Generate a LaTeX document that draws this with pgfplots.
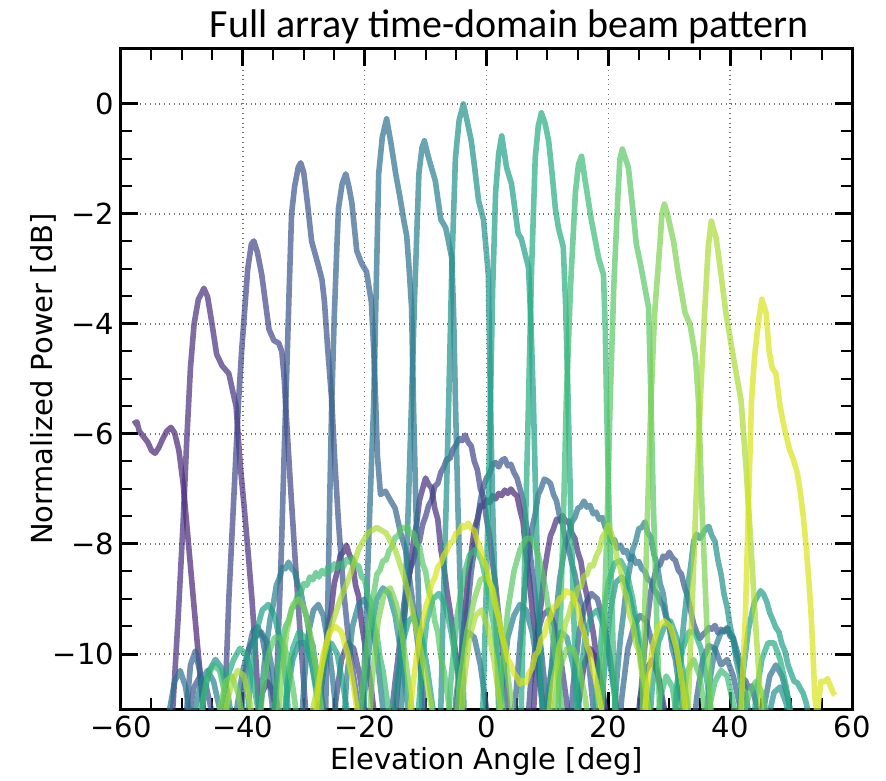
\documentclass[border=0pt]{standalone}
\usepackage{pgfplots}
\pgfplotsset{compat=1.18}
\usepackage{fontspec}
\setmainfont{DejaVu Sans}
\newfontfamily\titlefont{Carlito}
\definecolor{c0}{HTML}{482475}
\definecolor{c1}{HTML}{472F7D}
\definecolor{c2}{HTML}{414487}
\definecolor{c3}{HTML}{3A548C}
\definecolor{c4}{HTML}{33638D}
\definecolor{c5}{HTML}{2C718E}
\definecolor{c6}{HTML}{27808E}
\definecolor{c7}{HTML}{21918C}
\definecolor{c8}{HTML}{1F9F88}
\definecolor{c9}{HTML}{25AC82}
\definecolor{c10}{HTML}{3ABA76}
\definecolor{c11}{HTML}{58C765}
\definecolor{c12}{HTML}{7AD151}
\definecolor{c13}{HTML}{A8DB34}
\definecolor{c14}{HTML}{D8E219}
\begin{document}
\begin{tikzpicture}
\useasboundingbox (-60.5pt,-35.5pt) rectangle (382.5pt,354.5pt);
\begin{axis}[
  scale only axis, width=365.5pt, height=330pt,
  xmin=-60, xmax=60, ymin=-11, ymax=1,
  xtick={-60,-40,-20,0,20,40,60},
  xticklabels={−60,−40,−20,0,20,40,60},
  ytick={-10,-8,-6,-4,-2,0},
  yticklabels={−10,−8,−6,−4,−2,0},
  minor x tick num=3, minor y tick num=3,
  tick align=inside,
  major tick length=8.5pt, minor tick length=5.5pt,
  every major tick/.style={line width=1.5pt, black},
  every minor tick/.style={line width=1pt, black},
  axis line style={line width=1.5pt},
  grid=major,
  grid style={dotted, line width=0.7pt, black!55},
  ticklabel style={font=\fontsize{14.5}{17}\selectfont},
  every axis plot/.append style={no markers, line width=2.8pt, draw opacity=0.7, line join=round},
]
% beam 0 (tail)
\addplot[c0] coordinates {(-58,-5.82) (-57.4,-5.78) (-57,-5.95) (-56.3,-6.05) (-55.6,-6.15) (-55,-6.3) (-54.4,-6.35) (-53.8,-6.25) (-53.2,-6.1) (-52.5,-5.95) (-51.8,-5.88) (-51.2,-5.98) (-50.5,-6.3) (-49.8,-6.9) (-49,-7.9) (-48.2,-8.9) (-47.4,-9.9) (-46.7,-10.7) (-46.2,-11.5) (-44,-12.5) (-38.5,-12.5) (-37.5,-11.2) (-36.8,-10.7) (-36,-10.5) (-35.2,-10.65) (-34.4,-11.1) (-33.5,-12.5) (-30,-12.5) (-27.5,-11) (-27,-10.5) (-26.5,-10.05) (-26,-9.55) (-25.5,-9.2) (-25,-8.72) (-24.5,-8.5) (-24,-8.2) (-23.5,-8.15) (-23,-8.02) (-22.5,-8.2) (-22,-8.3) (-21.5,-8.75) (-21,-8.95) (-20.5,-9.45) (-20,-9.8) (-19.5,-10.2) (-19,-10.55) (-18,-11.5) (-17,-12.5) (-6,-12.5) (-4.5,-10.5) (-4,-9.85) (-3.5,-9.2) (-3,-8.55) (-2.5,-8.15) (-2,-7.72) (-1.5,-7.55) (-1,-7.3) (-0.5,-7.32) (0,-7.2) (0.5,-7.25) (1,-7.12) (1.5,-7.18) (2,-7.08) (2.5,-7.12) (3,-7.02) (3.5,-7.08) (4,-7.0) (4.5,-7.08) (5,-7.12) (5.5,-7.38) (6,-7.6) (6.5,-8.2) (7,-8.6) (7.5,-9.2) (8,-9.6) (8.5,-10.2) (9.5,-11.2) (10.5,-12.5) (14,-12.5) (15,-11) (16,-10.2) (17,-9.9) (18,-10.1) (19,-10.6) (20,-11.4) (21,-12.5)};
% beam 1
\addplot[c1] coordinates {(-52,-12.5) (-51.5,-11) (-50.6,-9.3) (-49.8,-7.6) (-49.2,-6.1) (-48.6,-4.8) (-48,-4.0) (-47.3,-3.55) (-46.8,-3.45) (-46.4,-3.35) (-45.8,-3.5) (-45.2,-3.9) (-44.3,-4.55) (-43.4,-4.76) (-42.3,-4.9) (-41.7,-5.2) (-41.1,-5.5) (-40.4,-6.6) (-39.8,-7.3) (-39.1,-8.2) (-38.5,-9.0) (-37.9,-10) (-37.4,-11) (-36.8,-12.5) (-16,-12.5) (-14.5,-10.5) (-14,-9.9) (-13.5,-9.35) (-13,-8.8) (-12.5,-8.45) (-12,-7.95) (-11.5,-7.65) (-11,-7.2) (-10.5,-7.0) (-10,-6.8) (-9.5,-6.92) (-9,-6.98) (-8.5,-7.35) (-8,-7.55) (-7.5,-8.1) (-7,-8.4) (-6.5,-8.85) (-6,-9.2) (-5.5,-9.6) (-5,-10.05) (-4.5,-10.5) (-3.8,-11.3) (-3,-12.5) (7,-12.5) (8.5,-9.5) (9,-9.05) (9.5,-8.5) (10,-8.15) (10.5,-7.85) (11,-7.72) (11.5,-7.55) (12,-7.58) (12.5,-7.48) (13,-7.6) (13.5,-7.58) (14,-7.8) (14.5,-7.9) (15,-8.15) (15.5,-8.32) (16,-8.7) (16.5,-8.95) (17,-9.3) (17.5,-9.6) (18,-10) (19.5,-11) (21,-12.5) (24,-12.5) (25.2,-10.8) (26.2,-10.3) (27.2,-10.1) (28.2,-10.4) (29.2,-11) (30.2,-12.5)};
% beam 2
\addplot[c2] coordinates {(-43.3,-12.5) (-42.8,-10.5) (-42.3,-9.0) (-41.5,-7.2) (-40.7,-5.4) (-40.2,-4.5) (-39.8,-3.9) (-39.2,-3.0) (-38.6,-2.55) (-38.2,-2.49) (-37.6,-2.7) (-36.9,-3.1) (-36.3,-3.6) (-35.7,-4.1) (-34.9,-4.3) (-34.1,-4.35) (-33.6,-4.5) (-33.2,-5.0) (-32.9,-5.6) (-32.2,-6.9) (-31.4,-8.3) (-30.6,-9.6) (-29.7,-11) (-29.2,-12.5) (-26,-12.5) (-24.8,-10.9) (-23.8,-10.1) (-22.8,-9.8) (-21.8,-9.9) (-20.8,-10.4) (-19.8,-11.2) (-18.8,-12.5) (-17,-12.5) (-15,-10.5) (-14.5,-10.05) (-14,-9.55) (-13.5,-9.05) (-13,-8.75) (-12.5,-8.45) (-12,-8.3) (-11.5,-8.05) (-11,-7.95) (-10.5,-7.65) (-10,-7.5) (-9.5,-7.3) (-9,-7.2) (-8.5,-6.95) (-8,-6.9) (-7.5,-6.7) (-7,-6.6) (-6.5,-6.45) (-6,-6.45) (-5.5,-6.28) (-5,-6.2) (-4.5,-6.08) (-4,-6.12) (-3.5,-6.02) (-3,-6.15) (-2.5,-6.22) (-2,-6.5) (-1.5,-6.65) (-1,-7.0) (-0.5,-7.15) (0,-7.55) (0.5,-7.85) (1,-8.35) (1.5,-8.75) (2,-9.3) (2.5,-9.75) (3,-10.4) (3.5,-11) (4.5,-12.5) (6,-12.5) (7.2,-10.6) (8.2,-9.7) (9.2,-9.3) (10.2,-9.2) (11.2,-9.5) (12.2,-10.1) (13.2,-10.9) (14.2,-12.5)};
% beam 3
\addplot[c3] coordinates {(-50,-12.5) (-49,-11.2) (-48,-10.6) (-47,-10.4) (-46,-10.6) (-45,-11.1) (-44,-12.5) (-35.3,-12.5) (-34.6,-11) (-33.7,-8.2) (-33.2,-6.3) (-32.8,-4.9) (-32.4,-3.4) (-32,-2.0) (-31.5,-1.5) (-30.9,-1.15) (-30.5,-1.07) (-30,-1.25) (-29.4,-1.8) (-28.7,-2.5) (-27.5,-2.98) (-27,-3.2) (-26.6,-3.6) (-26.1,-4.4) (-25.4,-5.4) (-24.9,-6.5) (-24.3,-7.6) (-23.5,-8.8) (-22.5,-9.9) (-21,-11) (-20.3,-12.5) (-6,-12.5) (-4.5,-10.5) (-4,-10.0) (-3.5,-9.45) (-3,-9.05) (-2.5,-8.5) (-2,-8.1) (-1.5,-7.6) (-1,-7.2) (-0.5,-6.95) (0,-6.8) (0.5,-6.72) (1,-6.55) (1.5,-6.52) (2,-6.6) (2.5,-6.48) (3,-6.45) (3.5,-6.58) (4,-6.55) (4.5,-6.7) (5,-6.8) (5.5,-7.0) (6,-7.2) (6.5,-7.62) (7,-8.0) (7.5,-8.5) (8,-8.95) (8.5,-9.5) (9,-9.95) (9.5,-10.5) (10.5,-11.5) (11.5,-12.5) (13,-12.5) (14.2,-10.6) (15.2,-9.6) (16.2,-9.1) (17.2,-8.9) (18.2,-9.0) (19.2,-9.4) (20.2,-10.0) (21.2,-10.8) (22.2,-12.5) (24,-12.5) (25.5,-10.5) (26,-9.85) (26.5,-9.3) (27,-8.85) (27.5,-8.62) (28,-8.4) (28.5,-8.38) (29,-8.22) (29.5,-8.25) (30,-8.15) (30.5,-8.25) (31,-8.3) (31.5,-8.48) (32,-8.55) (32.5,-8.78) (33,-8.95) (33.5,-9.2) (34,-9.45) (34.5,-9.6) (35,-9.72) (35.5,-9.65) (36,-9.6) (36.5,-9.52) (37,-9.55) (37.5,-9.48) (38,-9.62) (38.5,-9.55) (39,-9.6) (39.5,-9.52) (40,-9.68) (40.5,-9.72) (41,-10.0) (41.5,-10.18) (42,-10.45) (42.5,-10.48) (43,-10.62) (43.5,-10.58) (44.5,-11) (45.5,-12.5)};
% beam 4
\addplot[c4] coordinates {(-50,-12.5) (-49.2,-11) (-48.6,-10.2) (-47.8,-9.95) (-47.1,-10.3) (-46.5,-11) (-45.8,-12.5) (-41,-12.5) (-40,-10.8) (-39.2,-10.0) (-38.4,-9.6) (-37.6,-9.5) (-36.8,-9.7) (-36,-10.2) (-35.2,-10.9) (-34.4,-12.5) (-27,-12.5) (-26.4,-11) (-26,-8.8) (-25.7,-7) (-25.4,-5.4) (-25,-3.9) (-24.6,-2.7) (-24.3,-1.9) (-23.7,-1.45) (-23.1,-1.27) (-22.6,-1.5) (-22.1,-1.8) (-21.3,-2.67) (-20.5,-2.9) (-19.7,-3.05) (-18.9,-3.6) (-18.5,-4.5) (-18.2,-5.4) (-17.9,-6.4) (-17.4,-7.1) (-16.6,-7.04) (-15.8,-7.2) (-15,-7.35) (-14.1,-7.8) (-13.3,-8.1) (-12.3,-8.9) (-11.3,-9.8) (-10.3,-10.8) (-9.3,-12.5) (3.5,-12.5) (5,-10.5) (5.5,-9.8) (6,-9.2) (6.5,-8.55) (7,-8.15) (7.5,-7.7) (8,-7.45) (8.5,-7.1) (9,-6.98) (9.5,-6.82) (10,-6.85) (10.5,-6.9) (11,-7.1) (11.5,-7.22) (12,-7.5) (12.5,-7.65) (13,-7.95) (13.5,-8.1) (14,-8.35) (14.5,-8.55) (15,-8.85) (15.5,-9.1) (16,-9.5) (16.5,-9.9) (17,-10.4) (18,-11.5) (19,-12.5) (21,-12.5) (22.2,-10.8) (23.2,-9.9) (24.2,-9.5) (25.2,-9.3) (26.2,-9.4) (27.2,-9.8) (28.2,-10.4) (29.2,-11.2) (30.2,-12.5) (33,-12.5) (34.5,-10.8) (35.5,-10.1) (36.5,-9.85) (37.5,-9.9) (38.5,-10.2) (39.5,-10.1) (40.5,-10.4) (41.5,-10.9) (42.5,-11.6) (43.5,-12.5)};
% beam 5
\addplot[c5] coordinates {(-53,-12.5) (-52,-11) (-51.2,-10.5) (-50.3,-10.3) (-49.4,-10.6) (-48.6,-11.2) (-47.8,-12.5) (-42,-12.5) (-41,-11) (-40,-10.3) (-39,-9.9) (-38,-9.7) (-37,-9.6) (-36,-9.8) (-35,-10.4) (-34,-11.2) (-33,-12.5) (-31,-12.5) (-30,-10.6) (-29.2,-9.6) (-28.4,-9.2) (-27.6,-9.1) (-26.8,-9.3) (-26,-9.8) (-25.2,-10.5) (-24.4,-11.4) (-23.5,-12.5) (-21,-12.5) (-20.3,-11) (-19.7,-9.1) (-19.1,-7.2) (-18.5,-5.4) (-18.1,-3.3) (-17.7,-1.27) (-17.1,-0.6) (-16.4,-0.27) (-15.7,-0.7) (-14.9,-1.27) (-14.2,-1.7) (-13.6,-2.1) (-13.1,-2.4) (-12.7,-3.0) (-12.3,-3.7) (-12,-5.4) (-11.6,-7.3) (-11.1,-9.2) (-10.6,-11) (-10.2,-12.5) (-6,-12.5) (-5,-10.8) (-4,-9.9) (-3,-9.6) (-2,-9.7) (-1,-10.2) (0,-11) (1,-12.5) (9,-12.5) (10.5,-10.5) (11,-9.75) (11.5,-9.2) (12,-8.65) (12.5,-8.3) (13,-7.95) (13.5,-7.85) (14,-7.6) (14.5,-7.52) (15,-7.35) (15.5,-7.32) (16,-7.22) (16.5,-7.33) (17,-7.3) (17.5,-7.45) (18,-7.42) (18.5,-7.55) (19,-7.52) (19.5,-7.7) (20,-7.75) (20.5,-7.95) (21,-7.92) (21.5,-8.08) (22,-8.02) (22.5,-8.15) (23,-8.12) (23.5,-8.28) (24,-8.22) (24.5,-8.35) (25,-8.32) (25.5,-8.45) (26,-8.5) (26.5,-8.65) (27,-8.68) (27.5,-8.85) (28,-8.9) (28.5,-9.05) (29,-9.12) (29.5,-9.35) (30,-9.45) (30.5,-9.75) (31,-9.9) (31.5,-10.25) (32,-10.45) (32.5,-10.85) (33.5,-11.5) (34.5,-12.5) (44,-12.5) (45.5,-11) (46.5,-10.4) (47.5,-10.2) (48.5,-10.4) (49.5,-10.8) (50.5,-11.4) (51.5,-12.5)};
% beam 6
\addplot[c6] coordinates {(-49,-12.5) (-47.8,-11) (-46.8,-10.5) (-45.8,-10.3) (-44.8,-10.5) (-43.8,-11) (-42.8,-12.5) (-38,-12.5) (-37,-10.8) (-36.5,-10.2) (-36,-9.75) (-35.5,-9.35) (-35,-9.1) (-34.5,-8.75) (-34,-8.62) (-33.5,-8.42) (-33,-8.45) (-32.5,-8.33) (-32,-8.45) (-31.5,-8.5) (-31,-8.72) (-30.5,-8.85) (-30,-9.15) (-29.5,-9.35) (-29,-9.7) (-28.5,-9.85) (-28,-10.25) (-27.5,-10.45) (-26.5,-11.2) (-25.5,-12.5) (-24,-12.5) (-23,-10.5) (-22,-9.5) (-21,-9.1) (-20,-9.0) (-19,-9.3) (-18,-10) (-17,-11) (-16,-12.5) (-14.6,-12.5) (-14,-11) (-13.4,-9.1) (-12.8,-7.2) (-12.3,-5.4) (-11.8,-3.5) (-11.1,-1.27) (-10.6,-0.8) (-10.2,-0.67) (-9.5,-0.98) (-8.4,-1.4) (-7.5,-2.1) (-6.7,-2.25) (-5.7,-2.8) (-5.4,-3.8) (-5.1,-5.4) (-4.7,-7.3) (-4.2,-9.2) (-3.7,-11) (-3.3,-12.5) (1,-12.5) (2.5,-10.6) (3.5,-9.7) (4.5,-9.3) (5.5,-9.1) (6.5,-9.2) (7.5,-9.6) (8.5,-10.3) (9.5,-11.2) (10.5,-12.5) (20,-12.5) (21.5,-10.3) (22,-9.7) (22.5,-9.25) (23,-8.75) (23.5,-8.45) (24,-8.1) (24.5,-7.95) (25,-7.72) (25.5,-7.7) (26,-7.6) (26.5,-7.8) (27,-7.88) (27.5,-8.2) (28,-8.35) (28.5,-8.72) (29,-8.9) (29.5,-9.3) (30,-9.5) (30.5,-9.9) (31,-10.1) (31.5,-10.5) (32.5,-11.2) (33.5,-12.5) (35,-12.5) (36.5,-10.6) (37.5,-9.9) (38.5,-9.6) (39.5,-9.55) (40.5,-9.7) (41.5,-10.1) (42.5,-10.7) (43.5,-11.4) (44.5,-12.5)};
% beam 7
\addplot[c7] coordinates {(-48,-12.5) (-46.5,-10.8) (-45.5,-10.3) (-44.5,-10.1) (-43.5,-10.25) (-42.5,-10.7) (-41.5,-11.4) (-40.5,-12.5) (-34,-12.5) (-32.8,-10.8) (-31.8,-10.1) (-30.8,-9.8) (-29.8,-9.8) (-28.8,-10.1) (-27.8,-10.7) (-26.8,-11.5) (-25.8,-12.5) (-21,-12.5) (-20,-10.7) (-19,-9.6) (-18,-9.0) (-17,-8.8) (-16,-8.9) (-15,-9.3) (-14,-10) (-13,-10.9) (-12,-12.5) (-8,-12.5) (-7.5,-11) (-7.1,-9.1) (-6.6,-7.2) (-6.2,-5.4) (-5.7,-3) (-5.1,-0.98) (-4.5,-0.3) (-3.8,0) (-3.2,-0.3) (-2.5,-0.67) (-1.9,-1.2) (-1.3,-1.76) (-0.5,-2.1) (0.3,-3.1) (0.65,-5.4) (1,-7.3) (1.5,-9.2) (2,-11) (2.4,-12.5) (9,-12.5) (10.2,-10.6) (11.2,-9.9) (12.2,-9.6) (13.2,-9.7) (14.2,-10.2) (15.2,-11) (16.2,-12.5) (18,-12.5) (19.2,-10.5) (20.2,-9.3) (21.2,-8.7) (22.2,-8.6) (23.2,-8.8) (24.2,-9.3) (25.2,-10) (26.2,-10.8) (27.2,-12.5) (30,-12.5) (31.5,-10.5) (32,-9.85) (32.5,-9.3) (33,-8.8) (33.5,-8.42) (34,-7.95) (34.5,-7.82) (35,-7.9) (35.5,-7.82) (36,-7.72) (36.5,-7.68) (37,-7.85) (37.5,-7.95) (38,-8.3) (38.5,-8.55) (39,-8.92) (39.5,-9.15) (40,-9.5) (40.5,-9.75) (41,-10.12) (41.5,-10.35) (42,-10.72) (43,-11.4) (44,-12.5) (45,-12.5) (46.2,-11.2) (47.2,-10.7) (48.2,-10.6) (49.2,-10.9) (50.2,-11.6) (51,-12.5)};
% beam 8
\addplot[c8] coordinates {(-40,-12.5) (-38.8,-10.5) (-37.8,-9.6) (-36.8,-9.2) (-35.8,-9.1) (-34.8,-9.3) (-33.8,-9.8) (-32.8,-10.6) (-31.8,-12.5) (-29,-12.5) (-27.5,-10.8) (-26.5,-10.1) (-25.5,-9.8) (-24.5,-10.0) (-23.5,-10.6) (-22.5,-11.3) (-21.5,-12.5) (-16,-12.5) (-14.8,-10.6) (-13.8,-9.8) (-12.8,-9.4) (-11.8,-9.3) (-10.8,-9.6) (-9.8,-10.2) (-8.8,-11) (-7.8,-12.5) (-1.2,-12.5) (-0.6,-11) (-0.1,-9.1) (0.3,-7.2) (0.65,-5.4) (1,-3.4) (1.5,-1.6) (2,-0.9) (2.5,-0.58) (3.3,-1.16) (4.1,-1.45) (5.2,-2.36) (5.7,-2.44) (6.9,-2.98) (7.3,-4) (7.7,-5.4) (8.1,-7.3) (8.6,-9.2) (9.1,-11) (9.5,-12.5) (14,-12.5) (15.2,-10.6) (16.2,-9.7) (17.2,-9.3) (18.2,-9.2) (19.2,-9.5) (20.2,-10.1) (21.2,-10.9) (22.2,-12.5) (26,-12.5) (27.2,-10.6) (28.2,-9.8) (29.2,-9.5) (30.2,-9.4) (31.2,-9.7) (32.2,-10.3) (33.2,-11.1) (34.2,-12.5) (40,-12.5) (41.5,-11) (42,-10.45) (42.5,-10) (43,-9.55) (43.5,-9.3) (44,-9.05) (44.5,-8.95) (45,-8.85) (45.5,-8.92) (46,-9.05) (46.5,-9.25) (47,-9.38) (47.5,-9.52) (48,-9.6) (48.5,-9.82) (49,-9.95) (49.5,-10.2) (50,-10.35) (50.5,-10.5) (51,-10.52) (51.5,-10.62) (52,-10.72) (52.5,-10.9) (53.5,-11.5) (54.5,-12.5)};
% beam 9
\addplot[c9] coordinates {(-45,-12.5) (-43.5,-11) (-42.5,-10.4) (-41.5,-10.1) (-40.5,-9.9) (-39.5,-10.0) (-38.5,-10.4) (-37.5,-11) (-36.5,-12.5) (-34,-12.5) (-32.8,-10.6) (-31.8,-9.9) (-30.8,-9.6) (-29.8,-9.7) (-28.8,-10.1) (-27.8,-10.8) (-26.8,-12.5) (-12,-12.5) (-10.8,-10.4) (-9.8,-9.4) (-8.8,-9.0) (-7.8,-8.9) (-6.8,-9.1) (-5.8,-9.6) (-4.8,-10.3) (-3.8,-11.2) (-2.8,-12.5) (5.2,-12.5) (5.7,-11) (6.1,-9.1) (6.5,-7.2) (6.9,-5.4) (7.4,-3) (8,-0.98) (8.5,-0.4) (9,-0.16) (9.6,-0.35) (10.2,-0.67) (10.8,-1.3) (11.3,-1.9) (11.8,-2.25) (12.6,-2.6) (13,-3.7) (13.4,-5.4) (13.8,-7.3) (14.3,-9.2) (14.8,-11) (15.2,-12.5) (17,-12.5) (18,-10.8) (19,-9.5) (20,-8.7) (21,-8.35) (22,-8.3) (23,-8.5) (24,-9) (25,-9.7) (26,-10.4) (27,-11.2) (28,-12.5) (30,-12.5) (31.2,-10.6) (32.2,-9.9) (33.2,-9.6) (34.2,-9.6) (35.2,-9.9) (36.2,-10.5) (37.2,-11.3) (38.2,-12.5) (43,-12.5) (44.2,-10.8) (45.2,-10.1) (46.2,-9.8) (47.2,-9.8) (48.2,-10.1) (49.2,-10.6) (50.2,-11.3) (51.2,-12.5)};
% beam 10
\addplot[c10] coordinates {(-48,-12.5) (-46.8,-11) (-45.8,-10.4) (-44.8,-10.2) (-43.8,-10.3) (-42.8,-10.8) (-41.8,-11.6) (-40.8,-12.5) (-36,-12.5) (-34.5,-10.6) (-34,-10.1) (-33.5,-9.8) (-33,-9.5) (-32.5,-9.4) (-32,-9.18) (-31.5,-9.12) (-31,-8.92) (-30.5,-8.9) (-30,-8.72) (-29.5,-8.75) (-29,-8.6) (-28.5,-8.65) (-28,-8.52) (-27.5,-8.6) (-27,-8.48) (-26.5,-8.55) (-26,-8.42) (-25.5,-8.48) (-25,-8.36) (-24.5,-8.44) (-24,-8.35) (-23.5,-8.42) (-23,-8.28) (-22.5,-8.33) (-22,-8.25) (-21.5,-8.38) (-21,-8.4) (-20.5,-8.6) (-20,-8.65) (-19.5,-8.92) (-19,-9.05) (-18.5,-9.45) (-18,-9.65) (-17.5,-10.05) (-17,-10.3) (-16.5,-10.7) (-15.4,-11.5) (-14.5,-12.5) (-7,-12.5) (-5.8,-10.4) (-4.8,-9.3) (-3.8,-8.6) (-2.8,-8.2) (-1.8,-8.1) (-0.8,-8.3) (0.2,-8.8) (1.2,-9.5) (2.2,-10.4) (3.2,-11.4) (4.2,-12.5) (11.3,-12.5) (11.8,-11) (12.2,-9.1) (12.7,-7.2) (13.1,-5.4) (13.8,-3.3) (14.6,-1.6) (15.1,-1.1) (15.6,-0.95) (16.2,-1.4) (17.2,-2.1) (18.4,-2.8) (19.2,-3.1) (19.5,-4.1) (19.7,-5.4) (20.1,-7.3) (20.6,-9.2) (21.1,-11) (21.5,-12.5) (27,-12.5) (28.5,-10.8) (29.5,-10.4) (30.5,-10.6) (31.5,-11.3) (32.5,-12.5) (35,-12.5) (36.5,-11) (37.5,-10.5) (38.5,-10.3) (39.5,-10.4) (40.5,-10.9) (41.5,-11.6) (42.5,-12.5)};
% beam 11
\addplot[c11] coordinates {(-38,-12.5) (-36.8,-10.7) (-35.8,-10) (-34.8,-9.7) (-33.8,-9.7) (-32.8,-10) (-31.8,-10.6) (-30.8,-11.4) (-29.8,-12.5) (-22,-12.5) (-20.5,-10.8) (-20,-10.25) (-19.5,-9.7) (-19,-9.2) (-18.5,-8.9) (-18,-8.55) (-17.5,-8.48) (-17,-8.3) (-16.5,-8.3) (-16,-8.12) (-15.5,-8.05) (-15,-7.88) (-14.5,-7.85) (-14,-7.7) (-13.5,-7.72) (-13,-7.68) (-12.5,-7.82) (-12,-7.8) (-11.5,-8.0) (-11,-8.05) (-10.5,-8.35) (-10,-8.5) (-9.5,-8.85) (-9,-9.0) (-8.5,-9.4) (-8,-9.6) (-7.5,-10.05) (-7,-10.3) (-6.2,-10.9) (-5,-11.8) (-4,-12.5) (1,-12.5) (2.5,-10.4) (3.5,-9.2) (4.5,-8.5) (5.5,-8.1) (6.5,-7.9) (7.5,-7.9) (8.5,-8.2) (9.5,-8.7) (10.5,-9.4) (11.5,-10.2) (12.5,-11.1) (13.5,-12.5) (18.4,-12.5) (18.9,-11) (19.4,-9.1) (19.9,-7.2) (20.3,-5.4) (20.9,-3.3) (21.6,-1.6) (21.9,-1.0) (22.3,-0.82) (23.3,-1.16) (24.1,-2.0) (24.6,-2.55) (25.4,-2.98) (26.6,-3.7) (26.8,-4.5) (27,-5.4) (27.4,-7.3) (27.9,-9.2) (28.4,-11) (28.8,-12.5) (31,-12.5) (32,-11) (33,-10.3) (34,-10.1) (35,-10.4) (36,-11.2) (37,-12.5) (41,-12.5) (42.2,-11.1) (43.2,-10.7) (44.2,-10.5) (45.2,-10.7) (46.2,-11.2) (47.2,-12.5)};
% beam 12
\addplot[c12] coordinates {(-45,-12.5) (-43.8,-11) (-42.8,-10.5) (-41.8,-10.4) (-40.8,-10.7) (-39.8,-11.3) (-38.8,-12.5) (-35,-12.5) (-33.8,-10.6) (-32.8,-9.6) (-31.8,-9.1) (-30.8,-9.0) (-29.8,-9.2) (-28.8,-9.7) (-27.8,-10.4) (-26.8,-11.3) (-25.8,-12.5) (-20,-12.5) (-18.8,-10.5) (-17.8,-9.4) (-16.8,-8.9) (-15.8,-8.8) (-14.8,-9.1) (-13.8,-9.7) (-12.8,-10.5) (-11.8,-11.4) (-10.8,-12.5) (-6,-12.5) (-4.5,-10.6) (-3.2,-9.6) (-2,-9) (-1,-8.65) (0,-8.6) (1,-8.8) (2,-9.3) (3,-10) (4,-10.8) (5,-12.5) (10,-12.5) (11.2,-10.9) (12.2,-10.2) (13.2,-9.9) (14.2,-9.9) (15.2,-10.2) (16.2,-10.8) (17.2,-11.6) (18.2,-12.5) (25.2,-12.5) (25.6,-11) (26,-9.1) (26.5,-7.2) (27,-5.4) (27.6,-3.8) (28.5,-2.5) (28.8,-2.0) (29.2,-1.82) (29.7,-2.0) (30.2,-2.25) (30.7,-2.5) (31.5,-3.1) (32.6,-3.8) (33.4,-4.0) (34.3,-4.6) (34.8,-5.4) (35.4,-7.4) (36.1,-9.3) (36.8,-11) (37.3,-12.5)};
% beam 13
\addplot[c13] coordinates {(-44,-12.5) (-42.8,-11) (-41.8,-10.5) (-40.8,-10.3) (-39.8,-10.4) (-38.8,-10.9) (-37.8,-11.6) (-36.8,-12.5) (-30,-12.5) (-28.5,-11) (-27,-10.2) (-25.5,-9.5) (-24,-9.0) (-22.5,-8.6) (-21,-8.1) (-19.5,-7.8) (-18,-7.7) (-16.5,-7.8) (-15,-8.1) (-13.5,-8.6) (-12,-9.3) (-10.5,-10.1) (-9,-11) (-7.5,-12.5) (-5,-12.5) (-3.8,-10.6) (-2.8,-9.7) (-1.8,-9.3) (-0.8,-9.2) (0.2,-9.5) (1.2,-10.1) (2.2,-10.9) (3.2,-12.5) (9,-12.5) (10.5,-10.8) (11,-10.45) (11.5,-10.2) (12,-9.82) (12.5,-9.7) (13,-9.42) (13.5,-9.3) (14,-9.08) (14.5,-9.02) (15,-8.8) (15.5,-8.78) (16,-8.58) (16.5,-8.55) (17,-8.38) (17.5,-8.4) (18,-8.22) (18.5,-8.12) (19,-7.88) (19.5,-7.8) (20,-7.65) (20.5,-7.82) (21,-7.98) (21.5,-8.3) (22,-8.45) (22.5,-8.8) (23,-8.95) (23.5,-9.3) (24,-9.45) (24.5,-9.8) (25,-9.95) (25.5,-10.35) (26,-10.55) (27,-11.3) (28,-12.5) (32.6,-12.5) (33.1,-11) (33.8,-9) (34.4,-7.2) (35.1,-5.4) (35.8,-3.8) (36.4,-2.6) (36.9,-2.13) (37.7,-2.44) (38.5,-3.1) (39.3,-3.8) (40.2,-4.4) (41,-4.9) (41.8,-5.4) (42.6,-6.6) (43.4,-8) (44.2,-9.5) (45.1,-11) (45.6,-12.5)};
% beam 14
\addplot[c14] coordinates {(-29,-12.5) (-27.8,-10.8) (-26.8,-10.0) (-25.8,-9.6) (-24.8,-9.5) (-23.8,-9.6) (-22.8,-10.0) (-21.8,-10.6) (-20.8,-11.4) (-19.8,-12.5) (-14,-12.5) (-12,-10.5) (-11.5,-10.05) (-11,-9.7) (-10.5,-9.45) (-10,-9.15) (-9.5,-8.98) (-9,-8.72) (-8.5,-8.62) (-8,-8.42) (-7.5,-8.35) (-7,-8.2) (-6.5,-8.12) (-6,-7.98) (-5.5,-7.95) (-5,-7.8) (-4.5,-7.78) (-4,-7.66) (-3.5,-7.7) (-3,-7.62) (-2.5,-7.72) (-2,-7.75) (-1.5,-7.95) (-1,-8.08) (-0.5,-8.3) (0,-8.42) (0.5,-8.68) (1,-8.85) (1.5,-9.15) (2,-9.35) (2.5,-9.65) (3,-9.85) (3.5,-10.1) (4,-10.18) (4.5,-10.35) (5,-10.42) (5.5,-10.55) (6,-10.48) (6.5,-10.52) (7,-10.35) (7.5,-10.25) (8,-10.02) (8.5,-9.95) (9,-9.72) (9.5,-9.65) (10,-9.42) (10.5,-9.35) (11,-9.15) (11.5,-9.12) (12,-8.98) (12.5,-8.98) (13,-8.85) (13.5,-8.88) (14,-8.9) (14.5,-9.05) (15,-9.15) (15.5,-9.45) (16,-9.6) (16.5,-9.85) (17,-10.0) (17.5,-10.3) (18,-10.5) (19.2,-11.2) (20.4,-12.5) (25,-12.5) (26.2,-10.8) (27.2,-9.9) (28.2,-9.5) (29.2,-9.4) (30.2,-9.5) (31.2,-9.9) (32.2,-10.6) (33.2,-11.5) (34.2,-12.5) (41.3,-12.5) (41.8,-11) (42.5,-9.3) (43,-7.3) (43.5,-5.4) (44,-4.6) (44.6,-4.0) (45.2,-3.55) (45.9,-3.8) (46.4,-4.5) (46.9,-4.8) (47.5,-4.9) (48.2,-5.5) (48.9,-5.9) (49.8,-6.3) (50.3,-6.44) (51,-6.7) (51.5,-7.04) (52,-7.5) (52.5,-8.07) (53,-8.8) (53.3,-9.3) (53.6,-10) (53.9,-10.8) (54.3,-11.1) (54.6,-10.8) (54.9,-10.5) (55.5,-10.5) (56,-10.45) (56.5,-10.6) (56.9,-10.7) (57.2,-10.75)};
\end{axis}
\node[anchor=base, font=\fontsize{14.5}{17}\selectfont] at (182.75pt,-30pt) {Elevation Angle [deg]};
\node[anchor=base, rotate=90, font=\fontsize{14.5}{17}\selectfont] at (-34.5pt,165pt) {Normalized Power [dB]};
\node[anchor=base, font=\titlefont\fontsize{20}{24}\selectfont] at (194pt,335.5pt) {Full array time-domain beam pattern};
\end{tikzpicture}
\end{document}
